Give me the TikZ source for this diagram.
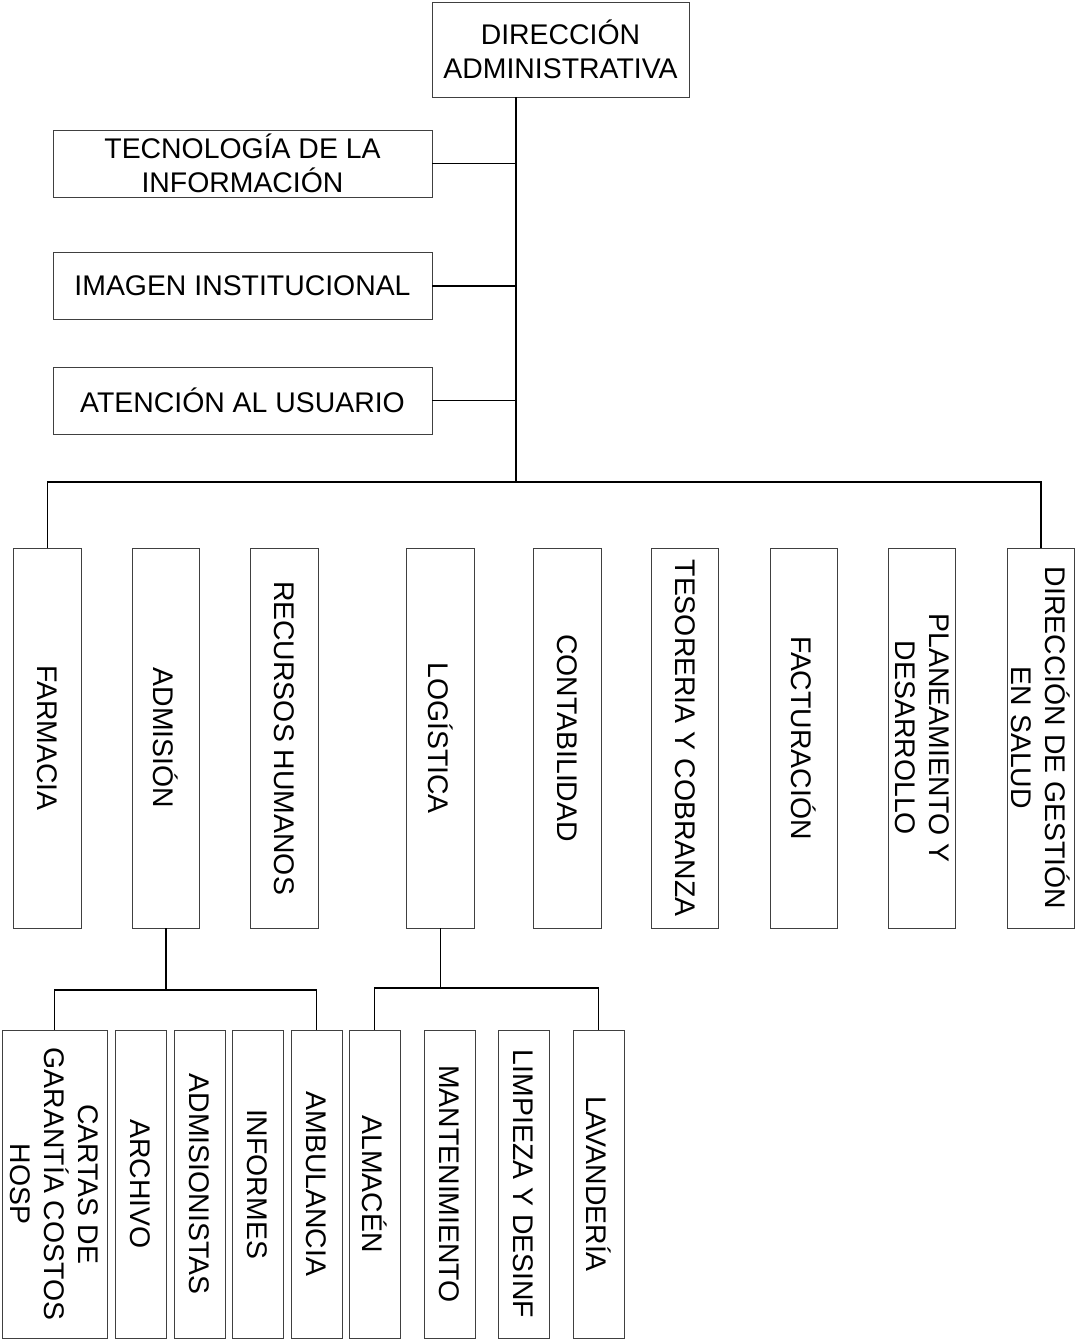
\documentclass[tikz,border=0pt]{standalone}
\usepackage{fontspec}
\setmainfont{Liberation Sans}
\usepackage{tikz}

\begin{document}
\begin{tikzpicture}[x=0.75pt,y=0.75pt,yscale=-1,xscale=1,
    unitbox/.style={draw=black!75, line width=0.7pt, inner sep=0pt, align=center,
        font=\fontsize{21.3}{25.5}\selectfont},
    hbox/.style={unitbox, minimum width=284.25pt, minimum height=50.25pt},
    vbox/.style={unitbox, rotate=-90, minimum width=285pt, minimum height=50.6pt},
    subbox/.style={unitbox, rotate=-90, minimum width=231pt, minimum height=38.25pt},
    link/.style={line width=1.2pt, black}]

    \useasboundingbox (0,0) rectangle (1076,1340);

    % direccion y staff
    \node [unitbox, minimum width=192.75pt, minimum height=71.25pt] (dir) at (560.5,49.5) {DIRECCIÓN\\ADMINISTRATIVA};
    \node [hbox] (tec) at (242.5,163.5) {TECNOLOGÍA DE LA\\INFORMACIÓN};
    \node [hbox] (img) at (242.5,286) {IMAGEN INSTITUCIONAL};
    \node [hbox] (ate) at (242.5,400.5) {ATENCIÓN AL USUARIO};

    % unidades
    \node [vbox] (farm) at (47.5,738) {FARMACIA};
    \node [vbox] (adm) at (166,738) {ADMISIÓN};
    \node [vbox] (rrhh) at (284.5,738) {RECURSOS HUMANOS};
    \node [vbox] (log) at (440.5,738) {LOGÍSTICA};
    \node [vbox] (cont) at (567.5,738) {CONTABILIDAD};
    \node [vbox] (tes) at (685,738) {TESORERIA Y COBRANZA};
    \node [vbox] (fact) at (804,738) {FACTURACIÓN};
    \node [vbox] (plan) at (922,738) {PLANEAMIENTO Y\\DESARROLLO};
    \node [vbox] (dges) at (1041,738) {DIRECCIÓN DE GESTIÓN\\EN SALUD};

    % areas de admision
    \node [subbox, minimum height=78.75pt] (cart) at (54.5,1184) {CARTAS DE\\GARANTÍA COSTOS\\HOSP};
    \node [subbox] (arch) at (140.5,1184) {ARCHIVO};
    \node [subbox] (admi) at (199.5,1184) {ADMISIONISTAS};
    \node [subbox] (inf) at (257.5,1184) {INFORMES};
    \node [subbox] (amb) at (316.5,1184) {AMBULANCIA};

    % areas de logistica
    \node [subbox] (alm) at (374.5,1184) {ALMACÉN};
    \node [subbox] (mant) at (449.5,1184) {MANTENIMIENTO};
    \node [subbox] (limp) at (523.5,1184) {LIMPIEZA Y DESINF};
    \node [subbox] (lav) at (598.5,1184) {LAVANDERÍA};

    % conectores
    \coordinate (j0) at (516,482);
    \coordinate (ja) at (166,990);
    \coordinate (jl) at (440.5,988);
    \draw [link] (dir.south -| j0) -- (j0);
    \draw [link] (tec.east) -- (tec.east -| j0);
    \draw [link] (img.east) -- (img.east -| j0);
    \draw [link] (ate.east) -- (ate.east -| j0);
    \draw [link] (farm.west) |- (j0) -| (dges.west);
    \draw [link] (adm.east) -- (ja);
    \draw [link] (cart.west) |- (ja) -| (amb.west);
    \draw [link] (log.east) -- (jl);
    \draw [link] (alm.west) |- (jl) -| (lav.west);

\end{tikzpicture}
\end{document}
